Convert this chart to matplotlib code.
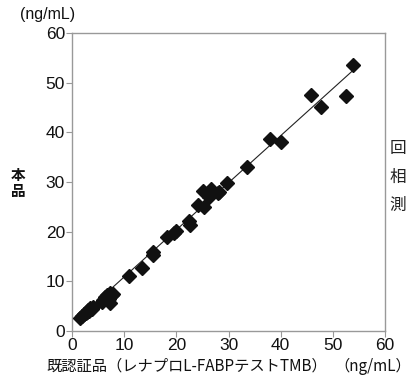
import matplotlib.pyplot as plt

x_ref = [1.5, 1.9, 2.2, 2.6, 2.8, 3.1, 3.45, 3.8, 4.1, 3.3, 5.7, 6.0, 6.3, 6.7, 7.0,
         7.2, 7.3, 7.6, 7.9, 10.9, 13.4, 15.5, 15.6, 18.2, 19.5, 19.9, 22.4, 22.7,
         24.1, 25.2, 25.3, 26.3, 26.6, 28.0, 28.2, 29.7, 33.6, 38.0, 40.1, 45.9,
         47.7, 52.5, 53.9]
y_new = [2.6, 3.0, 3.4, 3.7, 3.9, 4.2, 4.6, 4.4, 4.8, 4.0, 5.9, 6.3, 6.9, 7.3, 6.4,
         5.7, 7.6, 7.2, 7.5, 11.1, 12.6, 15.4, 16.0, 18.9, 19.8, 20.2, 22.2, 21.3,
         25.4, 28.2, 24.9, 27.0, 28.5, 27.7, 27.9, 29.9, 33.1, 38.7, 38.1, 47.5,
         45.2, 47.3, 53.5]

# regression line as drawn in the reference
fit_slope = 0.948
fit_intercept = 1.41
fit_range = [1.2, 53.9]

ticks = [0, 10, 20, 30, 40, 50, 60]
jp = ['Noto Sans CJK JP', 'DejaVu Sans']

fig = plt.figure(figsize=(4.14, 3.79), dpi=100)
ax = fig.add_axes([0.174, 0.1266, 0.756, 0.7863])

ax.plot(fit_range, [fit_slope * v + fit_intercept for v in fit_range],
        color='#222222', lw=0.8, zorder=2)
ax.plot(x_ref, y_new, 'D', color='#111111', markersize=7, zorder=3, clip_on=False)

ax.set_xlim(0, 60)
ax.set_ylim(0, 60)
ax.set_xticks(ticks)
ax.set_yticks(ticks)
for sp in ax.spines.values():
    sp.set_color('#999999')
    sp.set_linewidth(1.0)
ax.tick_params(direction='out', length=4, width=0.8, color='#999999',
               labelsize=12.5, labelcolor='#111111', pad=1)
for lab in ax.get_xticklabels() + ax.get_yticklabels():
    lab.set_family('Liberation Sans')

fig.text(20 / 414, 1 - 15 / 379, '(ng/mL)', family='Liberation Sans', fontsize=11.5,
         va='center', ha='left', color='#111111')
fig.text(18 / 414, 1 - 183 / 379, '本\n品', family=jp, fontsize=10.5, fontweight='bold',
         va='center', ha='center', linespacing=0.95, color='#111111')
fig.text(46 / 414, 1 - 366 / 379, '既認証品（レナプロL-FABPテストTMB）', family=jp,
         fontsize=11, va='center', ha='left', color='#111111')
fig.text(411 / 414, 1 - 366 / 379, '（ng/mL）', family=jp,
         fontsize=11, va='center', ha='right', color='#111111')

for ch, yp in zip(['回', '相', '測'], [149, 177, 205]):
    fig.text(398 / 414, 1 - yp / 379, ch, family=jp, fontsize=12,
             va='center', ha='center', color='#222222')

fig.savefig('out.png', dpi=100)
